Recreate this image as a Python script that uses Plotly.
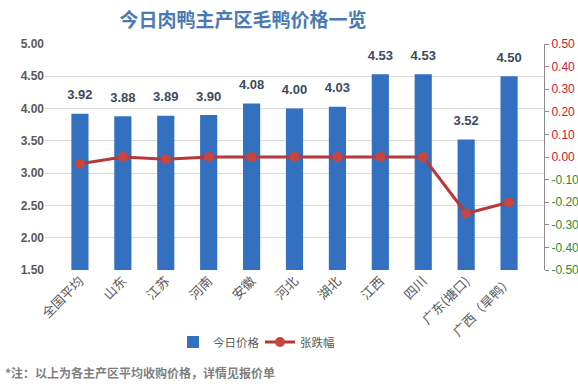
import plotly.graph_objects as go

categories = ["全国平均", "山东", "江苏", "河南", "安徽", "河北", "湖北", "江西", "四川", "广东(塘口)", "广西（旱鸭）"]
price_today = [3.92, 3.88, 3.89, 3.90, 4.08, 4.00, 4.03, 4.53, 4.53, 3.52, 4.50]
change = [-0.03, 0.00, -0.01, 0.00, 0.00, 0.00, 0.00, 0.00, 0.00, -0.25, -0.20]
left_ticks = [1.5, 2.0, 2.5, 3.0, 3.5, 4.0, 4.5, 5.0]
right_ticks = [-0.5, -0.4, -0.3, -0.2, -0.1, 0.0, 0.1, 0.2, 0.3, 0.4, 0.5]

RED = "#c8202a"
GREEN = "#2f8a2f"
right_text = [
    '<span style="color:%s">%.2f</span>' % (RED if v >= 0 else GREEN, v) for v in right_ticks
]

fig = go.Figure()
fig.add_trace(go.Bar(
    x=categories, y=price_today, name="今日价格",
    marker=dict(color="#3370c0", line=dict(width=0)),
    yaxis="y",
))
fig.add_trace(go.Scatter(
    x=categories, y=price_today, mode="markers+text",
    text=["%.2f" % v for v in price_today], textposition="top center",
    textfont=dict(family="Liberation Sans", size=13, color="#3b4a5e", weight="bold"),
    showlegend=False, hoverinfo="skip", yaxis="y", cliponaxis=False,
    marker=dict(size=16, opacity=0),
))
fig.add_trace(go.Scatter(
    x=categories, y=change, name="张跌幅", mode="lines+markers",
    line=dict(color="#b8393a", width=3),
    marker=dict(color="#c9463f", size=10, symbol="circle"),
    yaxis="y2",
))

fig.update_layout(
    width=578, height=388,
    margin=dict(l=45, r=34, t=44, b=118, autoexpand=False),
    paper_bgcolor="white", plot_bgcolor="white",
    bargap=0.6,
    title=dict(
        text="<b>今日肉鸭主产区毛鸭价格一览</b>",
        x=243 / 578, xanchor="center", xref="container",
        y=1 - 20 / 388, yanchor="middle", yref="container",
        font=dict(family="Noto Sans CJK SC", size=19, color="#4a7ab3"),
    ),
    xaxis=dict(
        tickangle=-45, showgrid=False, showline=False, ticks="", automargin=False,
        tickfont=dict(family="Noto Sans CJK SC", size=13, color="#595959"),
    ),
    yaxis=dict(
        range=[1.5, 5.0], tickvals=left_ticks, tickformat=".2f", automargin=False,
        showgrid=True, gridcolor="#d9d9d9", gridwidth=1, zeroline=False,
        showline=False, ticks="",
        tickfont=dict(family="Liberation Sans", size=12, color="#595959", weight="bold"),
    ),
    yaxis2=dict(
        range=[-0.5, 0.5], overlaying="y", side="right", automargin=False,
        tickvals=right_ticks, ticktext=right_text,
        showgrid=False, zeroline=False,
        showline=True, linecolor="#8c8c8c", linewidth=1,
        ticks="outside", ticklen=4, tickcolor="#8c8c8c",
        tickfont=dict(family="Liberation Sans", size=12),
    ),
    legend=dict(
        orientation="h", x=(173 - 45) / 499, xanchor="left",
        y=(270 - 342) / 226, yanchor="middle",
        entrywidth=42,
        font=dict(family="Noto Sans CJK SC", size=11.5, color="#595959"),
        bgcolor="rgba(0,0,0,0)",
    ),
    annotations=[dict(
        text="<b>*注：以上为各主产区平均收购价格，详情见报价单</b>",
        xref="paper", yref="paper", x=(3 - 45) / 499, y=(270 - 372) / 226,
        xanchor="left", yanchor="middle", showarrow=False,
        font=dict(family="Noto Sans CJK SC", size=12, color="#7f7f7f"),
    )],
)

fig.write_html("out.html", config={"displayModeBar": False},
               post_script="document.body.style.margin='0';")
